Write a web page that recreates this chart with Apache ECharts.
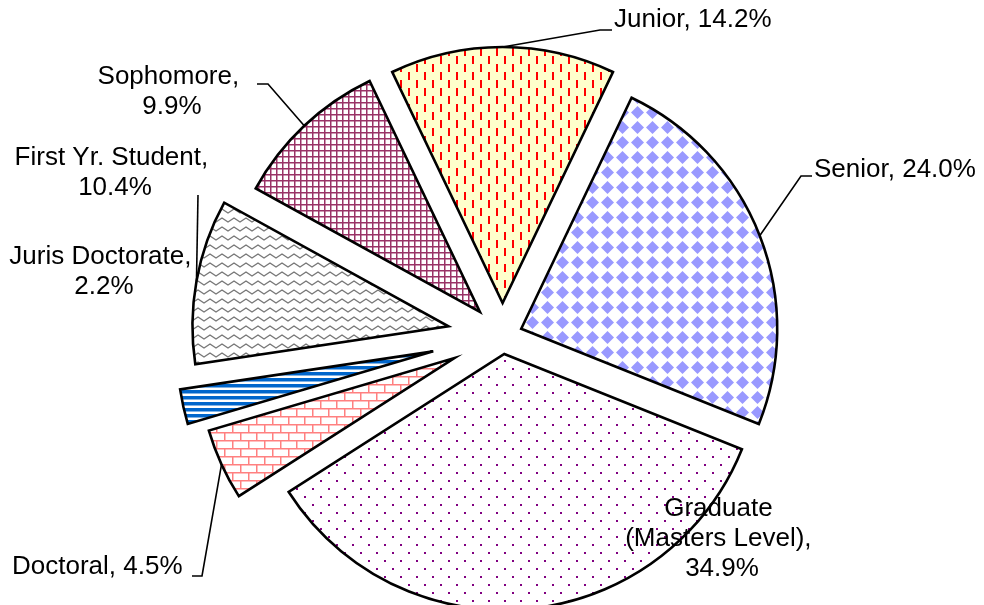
<!DOCTYPE html>
<html>
<head>
<meta charset="utf-8">
<script src="https://cdn.jsdelivr.net/npm/echarts@6/dist/echarts.min.js"></script>
<style>
html,body{margin:0;padding:0;background:#ffffff;}
#chart{width:984px;height:605px;}
</style>
</head>
<body>
<div id="chart"></div>
<script>
// ---- data ----
const categories = ['Junior', 'Senior', 'Graduate (Masters Level)', 'Doctoral', 'Juris Doctorate', 'First Yr. Student', 'Sophomore'];
const percents = [14.2, 24.0, 34.9, 4.5, 2.2, 10.4, 9.9];

// ---- layout / style (not data) ----
const pieCenter = [502.6, 336];
const pieRadius = 256;
const explodePx = [33, 20, 18, 53, 71, 55, 33];
// label anchor x, y, align
const labelPos = [[614, 20, 'left'], [814, 170, 'left'], [722, 539, 'center'], [12, 567, 'left'], [104, 272, 'center'], [115, 173, 'center'], [172, 92, 'center']];
const labelWrap = [null, null, 200, null, 200, 215, 160];
// leader line end relative to label anchor: [dx, dy, turnDx] ; null = no leader
const leaderSpec = [[-2, 10, -12], [-2, 6, -11], null, [180, 9, 10], null, [83, 22, 0], [85, -8, 11]];

function pat(w, h, bg, draw) {
  const c = document.createElement('canvas');
  c.width = w; c.height = h;
  const g = c.getContext('2d');
  g.fillStyle = bg; g.fillRect(0, 0, w, h);
  draw(g);
  return { image: c, repeat: 'repeat' };
}
const fills = [
  pat(16, 16, '#FFFFCC', g => { g.fillStyle = '#FF0000'; g.fillRect(0, 0, 2, 8); g.fillRect(8, 8, 2, 8); }),
  pat(15, 15, '#FFFFFF', g => { g.fillStyle = '#9999FF'; g.beginPath(); g.moveTo(7.5, 1); g.lineTo(14, 7.5); g.lineTo(7.5, 14); g.lineTo(1, 7.5); g.closePath(); g.fill(); }),
  pat(16, 16, '#FFFFFF', g => { g.fillStyle = '#800080'; g.fillRect(0, 0, 2, 2); g.fillRect(8, 8, 2, 2); }),
  pat(16, 16, '#FFFFFF', g => { g.fillStyle = '#FF8080'; g.fillRect(0, 0, 16, 1.5); g.fillRect(0, 8, 16, 1.5); g.fillRect(0, 0, 1.5, 8); g.fillRect(8, 8, 1.5, 8); }),
  pat(4, 6, '#FFFFFF', g => { g.fillStyle = '#0066CC'; g.fillRect(0, 0, 4, 3); g.fillStyle = '#80B2E5'; g.fillRect(0, 3, 4, 1); }),
  pat(12, 9, '#FFFFFF', g => { g.strokeStyle = '#777777'; g.lineWidth = 1.4; g.beginPath(); g.moveTo(-6, 2); g.lineTo(0, 6); g.lineTo(6, 2); g.lineTo(12, 6); g.lineTo(18, 2); g.stroke(); }),
  pat(6, 6, '#FFFFFF', g => { g.fillStyle = '#993366'; g.fillRect(0, 0, 6, 1.5); g.fillRect(0, 0, 1.5, 6); })
];

const total = percents.reduce((a, b) => a + b, 0);
const startAngle = 90 + percents[0] / total * 180;
let cum = 0;
const series = percents.map((v, k) => {
  const midDeg = (cum + v / 2) / total * 360 - percents[0] / total * 180;
  cum += v;
  const rad = midDeg * Math.PI / 180;
  const cx = pieCenter[0] + explodePx[k] * Math.sin(rad);
  const cy = pieCenter[1] - explodePx[k] * Math.cos(rad);
  const anchor = [cx + pieRadius * Math.sin(rad), cy - pieRadius * Math.cos(rad)];
  return {
    type: 'pie',
    center: [cx, cy],
    radius: [0, pieRadius],
    startAngle: startAngle,
    clockwise: true,
    avoidLabelOverlap: false,
    silent: true,
    animation: false,
    emphasis: { disabled: true },
    data: percents.map((val, i) => {
      const own = i === k;
      const lab = { show: own, color: '#000', fontFamily: 'Liberation Sans', fontSize: 26, lineHeight: 30,
        formatter: p => p.name + ', ' + p.value.toFixed(1) + '%' };
      if (own && labelWrap[i]) { lab.width = labelWrap[i]; lab.overflow = 'break'; lab.align = 'center'; }
      return {
        name: categories[i],
        value: val,
        itemStyle: own ? { color: fills[i], borderColor: '#000', borderWidth: 2.6, borderJoin: 'miter' }
                       : { color: 'rgba(0,0,0,0)', borderWidth: 0 },
        label: lab,
        labelLine: { show: own && leaderSpec[i] !== null, lineStyle: { color: '#000', width: 1.6 } }
      };
    }),
    labelLayout: params => {
      if (params.dataIndex !== k) return {};
      const p = labelPos[k];
      const out = { x: p[0], y: p[1], align: p[2], verticalAlign: 'middle' };
      const s = leaderSpec[k];
      if (s) {
        const end = [p[0] + s[0], p[1] + s[1]];
        const turn = [end[0] + s[2], end[1]];
        out.labelLinePoints = [anchor, turn, end];
      }
      return out;
    }
  };
});

const chart = echarts.init(document.getElementById('chart'), null, { renderer: 'canvas' });
chart.setOption({ backgroundColor: '#ffffff', animation: false, series: series });
</script>
</body>
</html>
